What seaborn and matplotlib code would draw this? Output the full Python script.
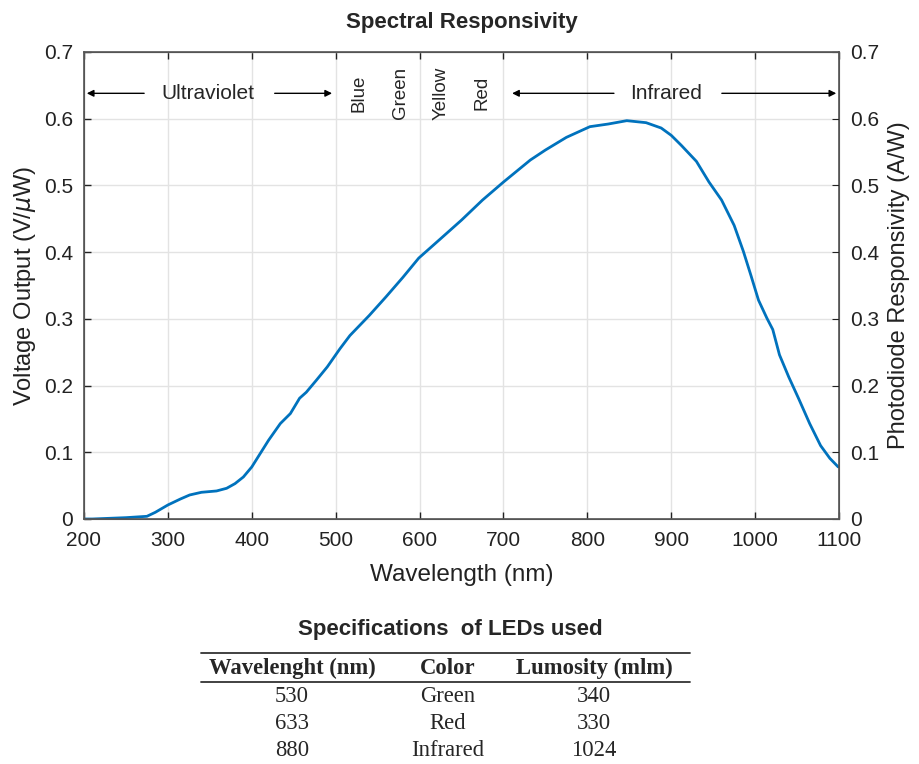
import matplotlib
matplotlib.use("Agg")
import matplotlib.pyplot as plt
from matplotlib.lines import Line2D
import pandas as pd
import seaborn as sns

# spectral responsivity curve
wavelength = [200, 210, 250, 275, 285, 300, 315, 326, 340, 358, 370, 380, 390, 400,
              410, 420, 434, 446, 457, 465, 477, 490, 505, 517, 540, 560, 580, 599,
              625, 650, 675, 700, 732, 750, 775, 803, 825, 847, 870, 888, 900, 912,
              930, 945, 960, 975, 986, 995, 1004, 1014, 1021, 1029, 1040, 1052, 1065,
              1078, 1089, 1099]
voltage = [0.0, 0.0, 0.002, 0.004, 0.01, 0.021, 0.03, 0.036, 0.04, 0.042, 0.046, 0.053,
           0.063, 0.078, 0.098, 0.118, 0.143, 0.158, 0.181, 0.19, 0.208, 0.228, 0.255,
           0.275, 0.305, 0.333, 0.362, 0.391, 0.42, 0.448, 0.478, 0.505, 0.538, 0.553,
           0.572, 0.588, 0.592, 0.597, 0.594, 0.586, 0.575, 0.56, 0.536, 0.505, 0.478,
           0.44, 0.401, 0.365, 0.328, 0.301, 0.284, 0.246, 0.213, 0.18, 0.143, 0.11,
           0.091, 0.078]

yticks = [0, 0.1, 0.2, 0.3, 0.4, 0.5, 0.6, 0.7]
ytick_labels = ["0", "0.1", "0.2", "0.3", "0.4", "0.5", "0.6", "0.7"]
xticks = [200, 300, 400, 500, 600, 700, 800, 900, 1000, 1100]

bands = ["Blue", "Green", "Yellow", "Red"]
band_pos = [528, 577, 626, 674]

led_wavelength = ["530", "633", "880"]
led_color = ["Green", "Red", "Infrared"]
led_lumosity = ["340", "330", "1024"]
table_header = ["Wavelenght (nm)", "Color", "Lumosity (mlm)"]

sns.set_style("whitegrid", {"grid.color": "#e3e3e3", "axes.edgecolor": "#555555",
                            "xtick.direction": "in", "ytick.direction": "in"})
plt.rcParams["font.family"] = ["Liberation Sans", "DejaVu Sans"]

df = pd.DataFrame({"Wavelength (nm)": wavelength, "Voltage": voltage})

fig = plt.figure(figsize=(9.2, 7.64), dpi=100)
ax = fig.add_axes([0.0913, 0.3207, 0.8207, 0.6113])
sns.lineplot(data=df, x="Wavelength (nm)", y="Voltage", ax=ax, color="#0072BD", linewidth=2)

ax.set_xlim(200, 1100)
ax.set_ylim(0, 0.7)
ax.set_xticks(xticks)
ax.set_yticks(yticks)
ax.set_yticklabels(ytick_labels)
ax.tick_params(labelsize=15, colors="#222222", length=5, top=True, bottom=True,
               left=True, right=False, width=1)
ax.tick_params(axis="x", pad=9)
ax.tick_params(axis="y", pad=8)
ax.set_xlabel("Wavelength (nm)", fontsize=17.5, color="#222222", labelpad=10)
ax.set_ylabel("Voltage Output (V/$\\mu$W)", fontsize=17, color="#222222", labelpad=4)
ax.grid(True, color="#e3e3e3", linewidth=1)
for s in ax.spines.values():
    s.set_linewidth(1.2)

ax2 = ax.twinx()
ax2.set_ylim(0, 0.7)
ax2.set_yticks(yticks)
ax2.set_yticklabels(ytick_labels)
ax2.tick_params(labelsize=15, colors="#222222", direction="in", length=5, pad=8)
ax2.set_ylabel("Photodiode Responsivity (A/W)", fontsize=17, color="#222222", labelpad=6)
ax2.grid(False)

ax.set_title("Spectral Responsivity", fontsize=16, fontweight="bold", pad=17)

# region annotations
arrow = dict(arrowstyle="-|>", color="black", lw=1, mutation_scale=10)
ya = 0.638
ax.annotate("", xy=(200, ya), xytext=(275, ya), arrowprops=arrow)
ax.annotate("", xy=(499, ya), xytext=(424, ya), arrowprops=arrow)
ax.text(348, ya, "Ultraviolet", fontsize=15, ha="center", va="center")
ax.annotate("", xy=(707, ya), xytext=(835, ya), arrowprops=arrow)
ax.annotate("", xy=(1100, ya), xytext=(957, ya), arrowprops=arrow)
ax.text(894, ya, "Infrared", fontsize=15, ha="center", va="center")
for name, pos in zip(bands, band_pos):
    ax.text(pos, ya, name, fontsize=13.5, rotation=90, ha="center", va="center")

# LED table
fig.text(450 / 920, 1 - 630 / 764, "Specifications  of LEDs used", fontsize=16,
         fontweight="bold", ha="center", va="center")
col_x = [292 / 920, 448 / 920, 594 / 920]
serif = ["Liberation Serif", "DejaVu Serif"]
for cx, h in zip(col_x, table_header):
    fig.text(cx, 1 - 668 / 764, h, fontsize=16.3, fontweight="bold", family=serif,
             ha="center", va="center")
for cx, col in zip(col_x, [led_wavelength, led_color, led_lumosity]):
    for i, v in enumerate(col):
        fig.text(cx, 1 - (696 + 27.5 * i) / 764, v, fontsize=16.3, family=serif,
                 ha="center", va="center")
for yl in [653, 682]:
    fig.add_artist(Line2D([201 / 920, 690 / 920], [1 - yl / 764] * 2, color="#333333",
                          linewidth=1.3))

fig.savefig("out.png", dpi=100)
